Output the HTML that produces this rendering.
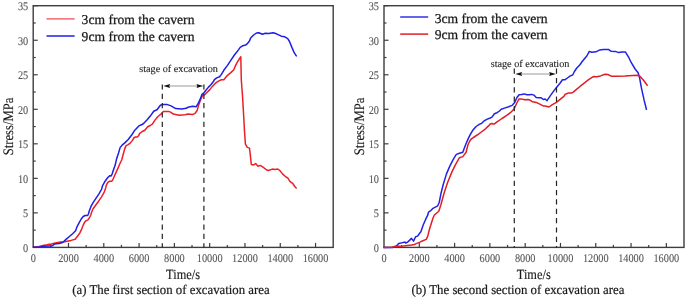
<!DOCTYPE html>
<html><head><meta charset="utf-8"><style>
html,body{margin:0;padding:0;background:#fff;}
body{width:685px;height:297px;overflow:hidden;}
svg{display:block;will-change:transform;}
text{font-family:"Liberation Serif",serif;text-rendering:geometricPrecision;}
.tl{font-size:11.8px;fill:#555;stroke:#555;stroke-width:0.1px;}
.lg{font-size:13.6px;fill:#1a1a1a;stroke:#1a1a1a;stroke-width:0.25px;}
.an{font-size:10.2px;fill:#222;stroke:#222;stroke-width:0.12px;}
.at{font-size:14px;fill:#1a1a1a;stroke:#1a1a1a;stroke-width:0.15px;}
.yl{font-size:14.5px;fill:#1a1a1a;stroke:#1a1a1a;stroke-width:0.15px;}
.cap{font-size:13.2px;fill:#1a1a1a;stroke:#1a1a1a;stroke-width:0.2px;}
</style></head><body>
<svg width="685" height="297" viewBox="0 0 685 297">
<rect x="33.2" y="5.7" width="300" height="241.70" fill="none" stroke="#3d3d3d" stroke-width="1.4"/>
<text x="28.200000000000003" y="251.80" class="tl" text-anchor="end" textLength="5.15" lengthAdjust="spacingAndGlyphs">0</text>
<line x1="33.2" y1="230.14" x2="35.7" y2="230.14" stroke="#3d3d3d" stroke-width="1.2"/>
<line x1="33.2" y1="212.88" x2="37.7" y2="212.88" stroke="#3d3d3d" stroke-width="1.2"/>
<text x="28.200000000000003" y="217.28" class="tl" text-anchor="end" textLength="5.15" lengthAdjust="spacingAndGlyphs">5</text>
<line x1="33.2" y1="195.61" x2="35.7" y2="195.61" stroke="#3d3d3d" stroke-width="1.2"/>
<line x1="33.2" y1="178.35" x2="37.7" y2="178.35" stroke="#3d3d3d" stroke-width="1.2"/>
<text x="28.200000000000003" y="182.75" class="tl" text-anchor="end" textLength="10.30" lengthAdjust="spacingAndGlyphs">10</text>
<line x1="33.2" y1="161.09" x2="35.7" y2="161.09" stroke="#3d3d3d" stroke-width="1.2"/>
<line x1="33.2" y1="143.82" x2="37.7" y2="143.82" stroke="#3d3d3d" stroke-width="1.2"/>
<text x="28.200000000000003" y="148.22" class="tl" text-anchor="end" textLength="10.30" lengthAdjust="spacingAndGlyphs">15</text>
<line x1="33.2" y1="126.56" x2="35.7" y2="126.56" stroke="#3d3d3d" stroke-width="1.2"/>
<line x1="33.2" y1="109.30" x2="37.7" y2="109.30" stroke="#3d3d3d" stroke-width="1.2"/>
<text x="28.200000000000003" y="113.70" class="tl" text-anchor="end" textLength="10.30" lengthAdjust="spacingAndGlyphs">20</text>
<line x1="33.2" y1="92.04" x2="35.7" y2="92.04" stroke="#3d3d3d" stroke-width="1.2"/>
<line x1="33.2" y1="74.78" x2="37.7" y2="74.78" stroke="#3d3d3d" stroke-width="1.2"/>
<text x="28.200000000000003" y="79.18" class="tl" text-anchor="end" textLength="10.30" lengthAdjust="spacingAndGlyphs">25</text>
<line x1="33.2" y1="57.51" x2="35.7" y2="57.51" stroke="#3d3d3d" stroke-width="1.2"/>
<line x1="33.2" y1="40.25" x2="37.7" y2="40.25" stroke="#3d3d3d" stroke-width="1.2"/>
<text x="28.200000000000003" y="44.65" class="tl" text-anchor="end" textLength="10.30" lengthAdjust="spacingAndGlyphs">30</text>
<line x1="33.2" y1="22.99" x2="35.7" y2="22.99" stroke="#3d3d3d" stroke-width="1.2"/>
<line x1="33.2" y1="5.72" x2="37.7" y2="5.72" stroke="#3d3d3d" stroke-width="1.2"/>
<text x="28.200000000000003" y="10.12" class="tl" text-anchor="end" textLength="10.30" lengthAdjust="spacingAndGlyphs">35</text>
<text x="33.20" y="261.8" class="tl" text-anchor="middle" textLength="5.15" lengthAdjust="spacingAndGlyphs">0</text>
<line x1="50.85" y1="247.4" x2="50.85" y2="244.9" stroke="#3d3d3d" stroke-width="1.2"/>
<line x1="68.49" y1="247.4" x2="68.49" y2="242.9" stroke="#3d3d3d" stroke-width="1.2"/>
<text x="68.49" y="261.8" class="tl" text-anchor="middle" textLength="20.60" lengthAdjust="spacingAndGlyphs">2000</text>
<line x1="86.14" y1="247.4" x2="86.14" y2="244.9" stroke="#3d3d3d" stroke-width="1.2"/>
<line x1="103.79" y1="247.4" x2="103.79" y2="242.9" stroke="#3d3d3d" stroke-width="1.2"/>
<text x="103.79" y="261.8" class="tl" text-anchor="middle" textLength="20.60" lengthAdjust="spacingAndGlyphs">4000</text>
<line x1="121.44" y1="247.4" x2="121.44" y2="244.9" stroke="#3d3d3d" stroke-width="1.2"/>
<line x1="139.08" y1="247.4" x2="139.08" y2="242.9" stroke="#3d3d3d" stroke-width="1.2"/>
<text x="139.08" y="261.8" class="tl" text-anchor="middle" textLength="20.60" lengthAdjust="spacingAndGlyphs">6000</text>
<line x1="156.73" y1="247.4" x2="156.73" y2="244.9" stroke="#3d3d3d" stroke-width="1.2"/>
<line x1="174.38" y1="247.4" x2="174.38" y2="242.9" stroke="#3d3d3d" stroke-width="1.2"/>
<text x="174.38" y="261.8" class="tl" text-anchor="middle" textLength="20.60" lengthAdjust="spacingAndGlyphs">8000</text>
<line x1="192.02" y1="247.4" x2="192.02" y2="244.9" stroke="#3d3d3d" stroke-width="1.2"/>
<line x1="209.67" y1="247.4" x2="209.67" y2="242.9" stroke="#3d3d3d" stroke-width="1.2"/>
<text x="209.67" y="261.8" class="tl" text-anchor="middle" textLength="25.75" lengthAdjust="spacingAndGlyphs">10000</text>
<line x1="227.32" y1="247.4" x2="227.32" y2="244.9" stroke="#3d3d3d" stroke-width="1.2"/>
<line x1="244.96" y1="247.4" x2="244.96" y2="242.9" stroke="#3d3d3d" stroke-width="1.2"/>
<text x="244.96" y="261.8" class="tl" text-anchor="middle" textLength="25.75" lengthAdjust="spacingAndGlyphs">12000</text>
<line x1="262.61" y1="247.4" x2="262.61" y2="244.9" stroke="#3d3d3d" stroke-width="1.2"/>
<line x1="280.26" y1="247.4" x2="280.26" y2="242.9" stroke="#3d3d3d" stroke-width="1.2"/>
<text x="280.26" y="261.8" class="tl" text-anchor="middle" textLength="25.75" lengthAdjust="spacingAndGlyphs">14000</text>
<line x1="297.91" y1="247.4" x2="297.91" y2="244.9" stroke="#3d3d3d" stroke-width="1.2"/>
<line x1="315.55" y1="247.4" x2="315.55" y2="242.9" stroke="#3d3d3d" stroke-width="1.2"/>
<text x="315.55" y="261.8" class="tl" text-anchor="middle" textLength="25.75" lengthAdjust="spacingAndGlyphs">16000</text>
<polyline points="33.5,247.0 36.0,246.9 39.0,246.5 43.1,245.6 47.1,244.8 49.1,244.3 51.1,244.3 53.2,243.4 56.5,242.8 60.6,242.1 63.0,242.1 67.0,241.2 71.1,240.4 75.1,239.3 77.1,236.7 79.7,233.2 81.7,229.1 83.2,225.1 84.7,222.1 86.2,220.6 87.7,220.1 89.3,218.0 90.8,215.0 91.6,212.3 93.1,208.7 95.6,205.2 98.6,201.2 101.7,196.6 104.2,192.1 105.7,188.0 106.1,185.8 107.6,182.7 109.6,181.2 111.6,181.2 112.6,180.2 114.1,176.7 116.2,172.1 118.2,167.6 120.2,163.0 121.7,160.0 123.1,154.7 124.6,149.1 126.1,145.6 128.2,144.6 130.2,143.1 132.2,140.6 134.2,137.5 135.7,137.0 137.3,137.0 138.8,135.5 139.5,133.6 142.2,131.5 144.9,130.2 147.6,126.8 150.3,125.5 152.3,124.1 155.0,120.1 157.7,116.7 160.0,114.7 160.4,114.7 163.3,111.6 168.6,111.4 171.0,112.4 173.3,114.1 179.2,115.3 185.1,114.7 188.0,114.0 192.5,114.6 195.1,113.3 197.0,110.8 198.9,104.4 200.8,99.2 202.7,95.4 204.7,94.7 207.2,92.2 209.8,89.6 212.4,86.4 214.9,83.8 215.5,83.2 218.5,81.1 221.4,79.7 223.8,79.7 227.3,75.6 230.8,72.6 233.8,69.7 235.5,65.6 237.3,62.1 239.6,58.5 240.8,56.8 241.3,80.0 242.6,97.2 243.9,120.0 244.5,131.1 245.4,144.1 247.3,147.4 249.5,148.1 250.0,152.4 251.3,164.4 253.7,165.0 255.6,163.5 258.0,166.3 260.2,165.4 263.0,167.2 266.7,170.0 268.4,170.5 272.4,169.1 275.1,169.5 277.8,169.1 279.8,170.5 282.5,173.9 285.2,176.3 287.9,178.2 289.9,181.3 292.6,183.3 294.6,186.2 296.2,188.0" fill="none" stroke="#ec1f26" stroke-width="1.5" stroke-linejoin="round" stroke-linecap="round"/>
<polyline points="33.5,247.0 35.0,247.3 40.4,247.1 41.7,246.5 44.4,246.3 48.4,246.1 50.5,246.1 52.5,245.8 54.5,244.1 56.5,243.8 59.2,243.4 61.9,242.8 63.0,242.2 66.0,239.4 69.1,236.7 72.6,233.7 75.6,230.7 77.1,226.6 79.2,222.6 81.2,219.0 83.2,216.5 85.2,215.5 87.7,215.5 88.5,213.8 89.5,210.3 91.1,206.2 93.1,202.7 96.1,198.1 99.1,193.6 101.7,189.0 102.5,185.8 105.1,181.2 107.6,177.7 109.6,175.7 111.1,176.0 112.1,174.1 113.6,169.6 115.2,165.1 116.5,159.2 118.6,152.7 120.1,147.6 122.1,145.1 125.1,142.6 128.2,139.5 131.7,135.0 134.8,130.2 138.9,125.9 141.5,124.8 143.6,123.5 146.9,120.1 150.3,116.1 153.7,111.3 156.4,110.0 157.0,109.8 160.4,105.3 162.7,104.4 166.8,104.4 171.0,105.9 175.7,108.6 181.6,109.1 186.3,108.3 188.0,107.2 192.5,106.3 196.3,106.7 198.3,103.1 200.2,99.2 202.1,94.1 204.0,92.8 205.9,90.3 208.5,87.1 211.1,84.5 213.6,81.3 214.4,79.7 216.7,77.9 219.6,76.8 221.4,74.4 223.8,70.3 227.3,65.6 230.8,60.3 234.4,55.0 236.8,52.1 240.2,47.4 242.9,45.7 245.6,45.1 247.6,43.4 249.6,40.7 250.6,38.0 253.6,35.0 256.5,33.0 258.9,32.7 262.4,34.2 265.3,33.3 268.9,33.5 273.0,32.7 276.5,33.8 281.3,36.2 284.8,36.8 287.7,38.6 289.5,41.5 291.9,47.4 294.2,52.7 296.3,55.9" fill="none" stroke="#1e1ee6" stroke-width="1.5" stroke-linejoin="round" stroke-linecap="round"/>
<line x1="46.5" y1="18.9" x2="74.6" y2="18.9" stroke="#ec1f26" stroke-width="1.4" stroke-opacity="0.72"/>
<line x1="46.5" y1="36.0" x2="74.6" y2="36.0" stroke="#1e1ee6" stroke-width="1.5"/>
<text x="81.6" y="24.4" class="lg">3cm from the cavern</text>
<text x="81.6" y="41.0" class="lg">9cm from the cavern</text>
<line x1="162.3" y1="84.4" x2="162.3" y2="247.4" stroke="#222" stroke-width="1.2" stroke-dasharray="5.2,4.14"/>
<line x1="203.9" y1="84.4" x2="203.9" y2="247.4" stroke="#222" stroke-width="1.2" stroke-dasharray="5.2,4.14"/>
<line x1="167.3" y1="86.0" x2="198.9" y2="86.0" stroke="#999" stroke-width="1.0"/>
<polygon points="163.3,86.0 170.10000000000002,84.0 169.20000000000002,86.0 170.10000000000002,88.0" fill="#111"/>
<polygon points="203.3,86.0 196.5,84.0 197.4,86.0 196.5,88.0" fill="#111"/>
<text x="139.3" y="71.7" class="an">stage of excavation</text>
<rect x="384.0" y="5.7" width="300" height="241.70" fill="none" stroke="#3d3d3d" stroke-width="1.4"/>
<text x="379.0" y="251.80" class="tl" text-anchor="end" textLength="5.15" lengthAdjust="spacingAndGlyphs">0</text>
<line x1="384.0" y1="230.14" x2="386.5" y2="230.14" stroke="#3d3d3d" stroke-width="1.2"/>
<line x1="384.0" y1="212.88" x2="388.5" y2="212.88" stroke="#3d3d3d" stroke-width="1.2"/>
<text x="379.0" y="217.28" class="tl" text-anchor="end" textLength="5.15" lengthAdjust="spacingAndGlyphs">5</text>
<line x1="384.0" y1="195.61" x2="386.5" y2="195.61" stroke="#3d3d3d" stroke-width="1.2"/>
<line x1="384.0" y1="178.35" x2="388.5" y2="178.35" stroke="#3d3d3d" stroke-width="1.2"/>
<text x="379.0" y="182.75" class="tl" text-anchor="end" textLength="10.30" lengthAdjust="spacingAndGlyphs">10</text>
<line x1="384.0" y1="161.09" x2="386.5" y2="161.09" stroke="#3d3d3d" stroke-width="1.2"/>
<line x1="384.0" y1="143.82" x2="388.5" y2="143.82" stroke="#3d3d3d" stroke-width="1.2"/>
<text x="379.0" y="148.22" class="tl" text-anchor="end" textLength="10.30" lengthAdjust="spacingAndGlyphs">15</text>
<line x1="384.0" y1="126.56" x2="386.5" y2="126.56" stroke="#3d3d3d" stroke-width="1.2"/>
<line x1="384.0" y1="109.30" x2="388.5" y2="109.30" stroke="#3d3d3d" stroke-width="1.2"/>
<text x="379.0" y="113.70" class="tl" text-anchor="end" textLength="10.30" lengthAdjust="spacingAndGlyphs">20</text>
<line x1="384.0" y1="92.04" x2="386.5" y2="92.04" stroke="#3d3d3d" stroke-width="1.2"/>
<line x1="384.0" y1="74.78" x2="388.5" y2="74.78" stroke="#3d3d3d" stroke-width="1.2"/>
<text x="379.0" y="79.18" class="tl" text-anchor="end" textLength="10.30" lengthAdjust="spacingAndGlyphs">25</text>
<line x1="384.0" y1="57.51" x2="386.5" y2="57.51" stroke="#3d3d3d" stroke-width="1.2"/>
<line x1="384.0" y1="40.25" x2="388.5" y2="40.25" stroke="#3d3d3d" stroke-width="1.2"/>
<text x="379.0" y="44.65" class="tl" text-anchor="end" textLength="10.30" lengthAdjust="spacingAndGlyphs">30</text>
<line x1="384.0" y1="22.99" x2="386.5" y2="22.99" stroke="#3d3d3d" stroke-width="1.2"/>
<line x1="384.0" y1="5.72" x2="388.5" y2="5.72" stroke="#3d3d3d" stroke-width="1.2"/>
<text x="379.0" y="10.12" class="tl" text-anchor="end" textLength="10.30" lengthAdjust="spacingAndGlyphs">35</text>
<text x="384.00" y="261.8" class="tl" text-anchor="middle" textLength="5.15" lengthAdjust="spacingAndGlyphs">0</text>
<line x1="401.65" y1="247.4" x2="401.65" y2="244.9" stroke="#3d3d3d" stroke-width="1.2"/>
<line x1="419.29" y1="247.4" x2="419.29" y2="242.9" stroke="#3d3d3d" stroke-width="1.2"/>
<text x="419.29" y="261.8" class="tl" text-anchor="middle" textLength="20.60" lengthAdjust="spacingAndGlyphs">2000</text>
<line x1="436.94" y1="247.4" x2="436.94" y2="244.9" stroke="#3d3d3d" stroke-width="1.2"/>
<line x1="454.59" y1="247.4" x2="454.59" y2="242.9" stroke="#3d3d3d" stroke-width="1.2"/>
<text x="454.59" y="261.8" class="tl" text-anchor="middle" textLength="20.60" lengthAdjust="spacingAndGlyphs">4000</text>
<line x1="472.24" y1="247.4" x2="472.24" y2="244.9" stroke="#3d3d3d" stroke-width="1.2"/>
<line x1="489.88" y1="247.4" x2="489.88" y2="242.9" stroke="#3d3d3d" stroke-width="1.2"/>
<text x="489.88" y="261.8" class="tl" text-anchor="middle" textLength="20.60" lengthAdjust="spacingAndGlyphs">6000</text>
<line x1="507.53" y1="247.4" x2="507.53" y2="244.9" stroke="#3d3d3d" stroke-width="1.2"/>
<line x1="525.18" y1="247.4" x2="525.18" y2="242.9" stroke="#3d3d3d" stroke-width="1.2"/>
<text x="525.18" y="261.8" class="tl" text-anchor="middle" textLength="20.60" lengthAdjust="spacingAndGlyphs">8000</text>
<line x1="542.82" y1="247.4" x2="542.82" y2="244.9" stroke="#3d3d3d" stroke-width="1.2"/>
<line x1="560.47" y1="247.4" x2="560.47" y2="242.9" stroke="#3d3d3d" stroke-width="1.2"/>
<text x="560.47" y="261.8" class="tl" text-anchor="middle" textLength="25.75" lengthAdjust="spacingAndGlyphs">10000</text>
<line x1="578.12" y1="247.4" x2="578.12" y2="244.9" stroke="#3d3d3d" stroke-width="1.2"/>
<line x1="595.76" y1="247.4" x2="595.76" y2="242.9" stroke="#3d3d3d" stroke-width="1.2"/>
<text x="595.76" y="261.8" class="tl" text-anchor="middle" textLength="25.75" lengthAdjust="spacingAndGlyphs">12000</text>
<line x1="613.41" y1="247.4" x2="613.41" y2="244.9" stroke="#3d3d3d" stroke-width="1.2"/>
<line x1="631.06" y1="247.4" x2="631.06" y2="242.9" stroke="#3d3d3d" stroke-width="1.2"/>
<text x="631.06" y="261.8" class="tl" text-anchor="middle" textLength="25.75" lengthAdjust="spacingAndGlyphs">14000</text>
<line x1="648.71" y1="247.4" x2="648.71" y2="244.9" stroke="#3d3d3d" stroke-width="1.2"/>
<line x1="666.35" y1="247.4" x2="666.35" y2="242.9" stroke="#3d3d3d" stroke-width="1.2"/>
<text x="666.35" y="261.8" class="tl" text-anchor="middle" textLength="25.75" lengthAdjust="spacingAndGlyphs">16000</text>
<polyline points="383.8,247.5 392.5,247.4 394.0,247.1 396.7,245.8 398.7,243.4 400.8,243.1 403.4,242.4 405.1,242.1 405.8,243.1 407.5,242.1 409.5,240.4 411.5,238.4 413.5,241.1 415.6,236.7 417.6,236.1 420.0,232.7 420.9,231.8 423.2,225.0 425.5,219.7 427.7,215.2 428.5,212.1 430.8,210.6 433.0,208.3 437.7,205.8 439.2,202.5 440.9,193.8 443.1,185.0 446.4,174.1 449.7,166.4 453.0,159.8 456.3,154.4 459.5,153.3 462.8,152.2 465.5,145.0 467.9,139.4 470.2,134.7 472.6,130.6 476.1,126.5 479.6,124.1 481.4,123.5 483.8,121.2 486.7,119.4 490.2,118.0 492.0,117.1 494.4,113.8 497.0,112.7 499.5,111.0 501.2,109.3 504.5,108.1 508.7,106.8 512.1,105.4 514.6,102.6 516.8,97.7 519.1,94.7 521.5,94.4 524.4,93.9 526.8,94.7 529.2,94.7 531.5,94.4 533.9,95.1 536.2,97.5 538.6,97.7 540.9,97.7 543.3,99.5 545.0,99.0 547.0,100.7 550.4,95.6 553.8,90.9 557.1,86.8 559.8,83.5 562.5,79.7 565.2,79.7 567.4,78.0 570.3,75.9 572.7,75.0 574.4,71.5 576.8,68.0 579.7,65.0 582.6,61.0 586.8,56.0 589.3,51.4 591.8,52.3 596.0,51.8 599.4,50.1 603.6,49.6 608.7,49.6 611.2,51.3 615.4,51.4 618.8,52.6 622.0,52.1 625.5,52.1 628.9,57.7 631.3,62.7 635.1,69.0 638.1,72.7 639.6,77.8 641.4,87.9 643.9,99.2 646.4,109.3" fill="none" stroke="#2222e6" stroke-width="1.5" stroke-linejoin="round" stroke-linecap="round"/>
<polyline points="383.8,247.5 391.9,247.3 394.0,246.6 398.1,246.2 403.4,245.9 407.5,245.4 411.5,245.1 414.2,244.5 416.9,243.4 420.0,242.1 421.7,241.2 426.2,239.4 427.7,236.4 429.2,230.3 431.5,222.7 433.2,217.5 434.4,215.0 438.8,211.3 440.9,204.7 444.2,192.7 447.5,182.8 451.9,171.9 456.3,163.1 459.5,157.7 462.8,156.6 466.1,152.2 467.9,145.0 469.6,141.2 471.4,138.8 474.9,136.5 478.5,134.1 482.0,131.5 485.5,128.8 488.5,125.9 490.2,123.9 492.0,123.5 492.8,123.9 494.4,123.9 497.0,121.9 502.0,118.5 507.1,115.2 510.4,112.7 513.8,109.3 515.5,105.9 516.8,103.0 519.1,98.9 521.5,98.9 524.4,99.8 528.0,99.5 530.3,100.3 532.7,101.8 536.2,102.4 539.8,104.2 543.3,105.9 545.0,106.1 549.0,107.0 552.4,104.7 556.4,102.3 559.8,99.6 563.9,96.3 565.0,94.5 568.0,93.1 571.5,93.1 573.3,92.1 576.8,89.2 580.3,86.2 583.9,83.3 588.6,79.7 593.3,76.6 596.9,76.8 600.4,75.9 605.0,74.3 607.8,74.5 611.2,76.2 616.2,76.2 625.0,75.9 632.7,75.4 637.6,75.3 640.2,76.5 643.9,80.8 647.2,85.3" fill="none" stroke="#e01e26" stroke-width="1.5" stroke-linejoin="round" stroke-linecap="round"/>
<line x1="400.2" y1="17.0" x2="428.2" y2="17.0" stroke="#2222e6" stroke-width="1.4" stroke-opacity="1.0"/>
<line x1="400.2" y1="34.1" x2="428.2" y2="34.1" stroke="#e01e26" stroke-width="1.5"/>
<text x="434.7" y="22.5" class="lg">3cm from the cavern</text>
<text x="434.7" y="38.9" class="lg">9cm from the cavern</text>
<line x1="514.3" y1="68.6" x2="514.3" y2="247.4" stroke="#222" stroke-width="1.2" stroke-dasharray="5.2,4.14"/>
<line x1="556.5" y1="68.6" x2="556.5" y2="247.4" stroke="#222" stroke-width="1.2" stroke-dasharray="5.2,4.14"/>
<line x1="519.3" y1="74.0" x2="551.5" y2="74.0" stroke="#999" stroke-width="1.0"/>
<polygon points="515.3,74.0 522.0999999999999,72.0 521.1999999999999,74.0 522.0999999999999,76.0" fill="#111"/>
<polygon points="555.9,74.0 549.1,72.0 550.0,74.0 549.1,76.0" fill="#111"/>
<text x="490.7" y="67.4" class="an">stage of excavation</text>
<text transform="translate(12.7,126.5) rotate(-90)" class="yl" text-anchor="middle" textLength="57.6" lengthAdjust="spacingAndGlyphs">Stress/MPa</text>
<text transform="translate(363.5,126.5) rotate(-90)" class="yl" text-anchor="middle" textLength="57.6" lengthAdjust="spacingAndGlyphs">Stress/MPa</text>
<text x="166.1" y="278.6" class="at" textLength="33.9" lengthAdjust="spacingAndGlyphs">Time/s</text>
<text x="516.8" y="278.6" class="at" textLength="33.9" lengthAdjust="spacingAndGlyphs">Time/s</text>
<text x="72.3" y="293.6" class="cap" textLength="197.4" lengthAdjust="spacingAndGlyphs">(a) The first section of excavation area</text>
<text x="411.4" y="293.6" class="cap" textLength="213" lengthAdjust="spacingAndGlyphs">(b) The second section of excavation area</text>
</svg>
</body></html>
